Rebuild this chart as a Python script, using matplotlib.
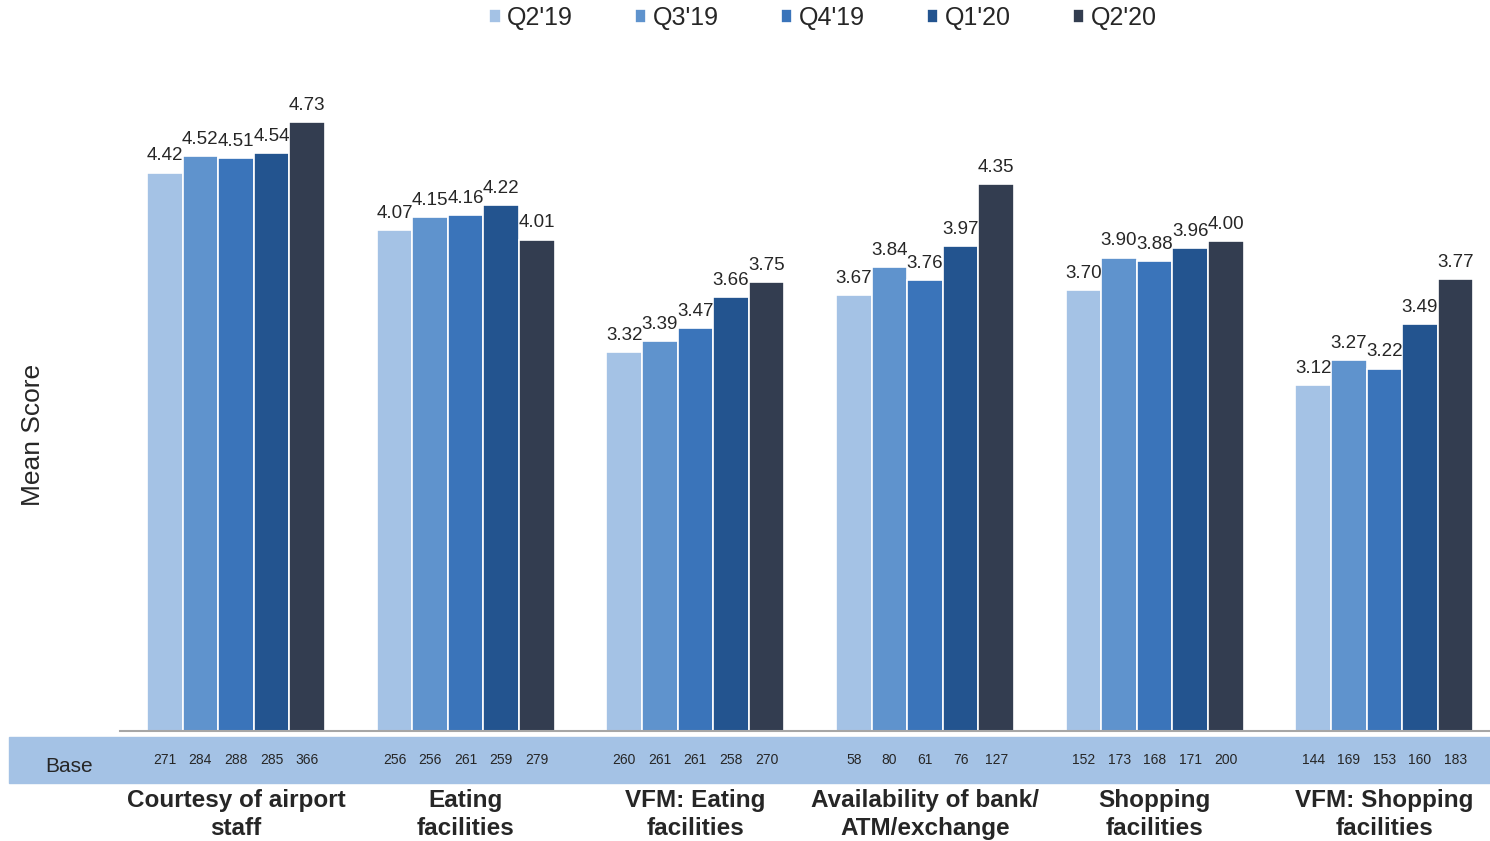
import numpy as np
import matplotlib
matplotlib.use("Agg")
from matplotlib import pyplot as plt
from matplotlib import transforms
from matplotlib.patches import Rectangle

plt.rcParams["font.family"] = ["Liberation Sans", "DejaVu Sans"]

categories = [
    "Courtesy of airport\nstaff",
    "Eating\nfacilities",
    "VFM: Eating\nfacilities",
    "Availability of bank/\nATM/exchange",
    "Shopping\nfacilities",
    "VFM: Shopping\nfacilities",
]
quarters = ["Q2'19", "Q3'19", "Q4'19", "Q1'20", "Q2'20"]

q2_19 = [4.42, 4.07, 3.32, 3.67, 3.70, 3.12]
q3_19 = [4.52, 4.15, 3.39, 3.84, 3.90, 3.27]
q4_19 = [4.51, 4.16, 3.47, 3.76, 3.88, 3.22]
q1_20 = [4.54, 4.22, 3.66, 3.97, 3.96, 3.49]
q2_20 = [4.73, 4.01, 3.75, 4.35, 4.00, 3.77]

base_q2_19 = [271, 256, 260, 58, 152, 144]
base_q3_19 = [284, 256, 261, 80, 173, 169]
base_q4_19 = [288, 261, 261, 61, 168, 153]
base_q1_20 = [285, 259, 258, 76, 171, 160]
base_q2_20 = [366, 279, 270, 127, 200, 183]

scores = [q2_19, q3_19, q4_19, q1_20, q2_20]
bases = [base_q2_19, base_q3_19, base_q4_19, base_q1_20, base_q2_20]
colors = ["#a4c2e5", "#5f93cd", "#3a74ba", "#23548f", "#333d50"]
text_color = "#262626"

W, H = 1490, 841
fig = plt.figure(figsize=(W / 100, H / 100), dpi=100)
ax = fig.add_axes([120 / W, (H - 731) / H, 1370 / W, 658 / H])

x = np.arange(len(categories))
width = 0.155
ymin = 1.0

for i, (vals, col, q) in enumerate(zip(scores, colors, quarters)):
    pos = x + (i - 2) * width
    vals = np.array(vals)
    ax.bar(pos, vals - ymin, width, bottom=ymin, color=col,
           edgecolor="white", linewidth=1.2, label=q)
    for px, v in zip(pos, vals):
        ax.text(px, v + 0.05, f"{v:.2f}", ha="center", va="bottom",
                fontsize=13.5, color=text_color)

ax.set_xlim(-0.505, 5.46)
ax.set_ylim(ymin, 5.03)
ax.set_yticks([])
ax.set_xticks([])
for side in ["top", "right", "left"]:
    ax.spines[side].set_visible(False)
ax.spines["bottom"].set_color("#a6a6a6")
ax.spines["bottom"].set_linewidth(1.5)

ax.set_ylabel("Mean Score", fontsize=19, color=text_color, labelpad=0)
ax.yaxis.set_label_coords((45 - 120) / 1370, 0.45)

# base band under the axis
fig.patches.append(Rectangle((9 / W, (H - 783) / H), (W - 9) / W, 46 / H,
                             transform=fig.transFigure, color="#a4c2e5",
                             zorder=-1))
fig.text(69 / W, (H - 766) / H, "Base", ha="center", va="center",
         fontsize=15, color=text_color)

trans = transforms.blended_transform_factory(ax.transData, fig.transFigure)
for i, b in enumerate(bases):
    pos = x + (i - 2) * width
    for px, n in zip(pos, b):
        ax.text(px, (H - 760) / H, str(n), ha="center", va="center",
                fontsize=10, color=text_color, transform=trans)

for px, cat in zip(x, categories):
    ax.text(px, (H - 789) / H, cat, ha="center", va="top", fontsize=17.5,
            fontweight="bold", color=text_color, linespacing=1.28,
            transform=trans)

ax.legend(loc="center", bbox_to_anchor=(823 / W, (H - 18) / H),
          bbox_transform=fig.transFigure, ncol=5, frameon=False,
          fontsize=18, handlelength=0.45, handleheight=0.45,
          handletextpad=0.25, columnspacing=2.5, labelcolor=text_color)

fig.savefig("out.png", dpi=100)
